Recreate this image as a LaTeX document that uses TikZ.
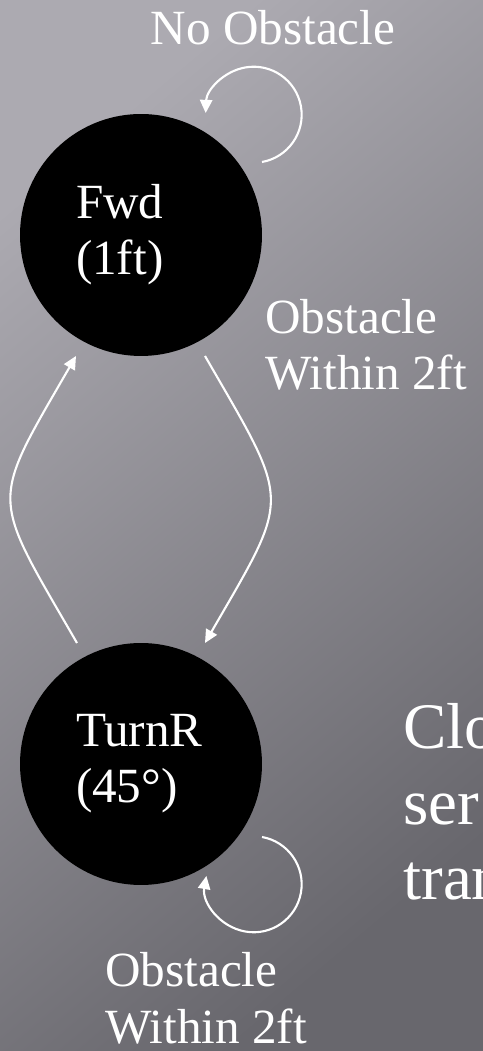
\documentclass[tikz,border=0pt]{standalone}
\usepackage{fontspec}
\setmainfont{Liberation Serif}
\usetikzlibrary{arrows.meta}

\definecolor{bgLight}{RGB}{172,170,177}
\definecolor{bgMid}{RGB}{140,138,145}
\definecolor{bgDark}{RGB}{104,103,109}

\begin{document}
\begin{tikzpicture}[
    x=0.02cm, y=0.02cm,
    state/.style={circle, fill=black, text=white, minimum size=4.84cm, inner sep=0pt, text width=2.6cm, align=left, font=\fontsize{28}{32}\selectfont},
    lbl/.style={text=white, inner sep=0pt, align=left, font=\fontsize{28}{32}\selectfont},
    link/.style={white, line width=1.2pt, -{Triangle[length=7.5pt, width=7pt]}}
]
\clip (0,0) rectangle (483,1051);
\shade[top color=bgLight, middle color=bgMid, bottom color=bgDark, shading angle=40] (0,0) rectangle (483,1051);
\node[state] (fwd) at (141,816) {Fwd\\(1ft)};
\node[state] (turn) at (141,287) {TurnR\\(45°)};
\node[lbl, anchor=base] (noobs) at (273,1006) {No Obstacle};
\node[lbl, anchor=base west] (obsfwd) at (265,661) {Obstacle\\Within 2ft};
\node[lbl, anchor=base west] (obsturn) at (105,8) {Obstacle\\Within 2ft};
\node[lbl, anchor=base west, font=\fontsize{37}{43}\selectfont] (note) at (403,151) {Clo\\ser\\tran};
\draw[link] ([shift={(121,73)}]fwd.center) arc[start angle=-80, end angle=178, radius=48];
\draw[link] ([shift={(121,-73)}]turn.center) arc[start angle=80, end angle=-190, radius=48];
\draw[link] ([shift={(64,-121)}]fwd.center) to[out=-60, in=60, looseness=1.55] ([shift={(64,121)}]turn.center);
\draw[link] ([shift={(-64,121)}]turn.center) to[out=120, in=-120, looseness=1.55] ([shift={(-65,-121)}]fwd.center);
\end{tikzpicture}
\end{document}
